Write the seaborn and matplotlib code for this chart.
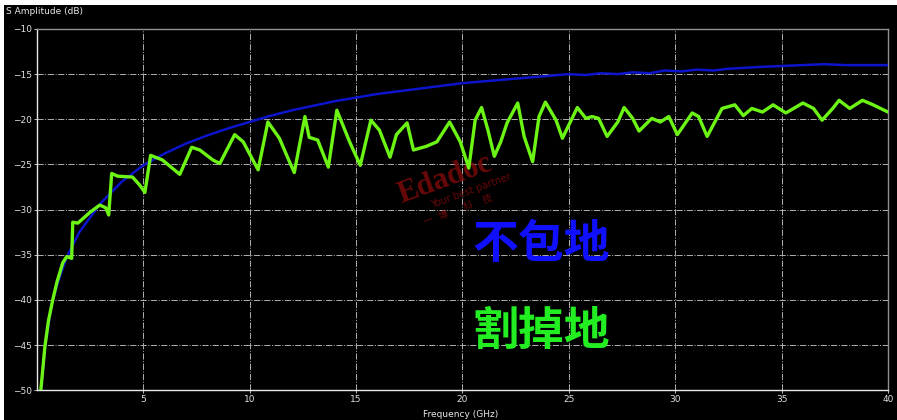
import matplotlib
matplotlib.use('Agg')
import matplotlib.pyplot as plt
from matplotlib.patches import Rectangle
import seaborn as sns

# 不包地 (blue) - S amplitude in dB vs frequency in GHz
blue_freq = [0.2, 0.4, 0.7, 1.0, 1.4, 2.0, 3.0, 4.0, 5.0, 6.0, 7.0, 8.0, 9.0, 10.0,
             11.0, 12.0, 13.0, 14.0, 15.0, 16.0, 17.0, 18.0, 19.0, 20.0, 21.0, 22.0,
             23.0, 24.0, 25.0, 25.8, 26.5, 27.3, 28.0, 28.8, 29.5, 30.3, 31.0, 31.8,
             32.5, 33.3, 34.0, 35.0, 36.0, 37.0, 38.0, 39.0, 40.0]
blue_db = [-50.0, -45.0, -40.5, -38.0, -35.3, -32.5, -29.3, -26.9, -25.1, -23.8, -22.7,
           -21.8, -21.0, -20.3, -19.6, -19.0, -18.5, -18.0, -17.6, -17.2, -16.9, -16.6,
           -16.3, -16.0, -15.8, -15.6, -15.4, -15.2, -15.0, -15.1, -14.9, -15.0, -14.8,
           -14.9, -14.6, -14.7, -14.5, -14.6, -14.4, -14.3, -14.2, -14.1, -14.0, -13.9,
           -14.0, -14.0, -14.0]

# 割掉地 (green)
green_freq = [0.19, 0.38, 0.55, 0.75, 0.94, 1.22, 1.41, 1.64, 1.69, 1.93, 2.5, 2.96,
              3.24, 3.38, 3.52, 3.8, 4.5, 4.84, 5.08, 5.35, 5.9, 6.72, 7.28, 7.66, 8.27,
              8.6, 9.3, 9.7, 10.4, 10.86, 11.4, 11.8, 12.1, 12.6, 12.8, 13.2, 13.7, 14.1,
              14.7, 15.2, 15.7, 16.1, 16.6, 16.9, 17.4, 17.7, 18.3, 18.8, 19.4, 19.9,
              20.3, 20.6, 20.9, 21.2, 21.5, 21.8, 22.1, 22.6, 22.9, 23.3, 23.6, 23.9,
              24.4, 24.7, 25.4, 25.8, 26.1, 26.4, 26.8, 27.3, 27.6, 28.0, 28.3, 28.9,
              29.3, 29.7, 30.1, 30.8, 31.1, 31.5, 32.2, 32.8, 33.2, 33.6, 34.1, 34.6,
              35.2, 36.0, 36.5, 36.9, 37.4, 37.7, 38.2, 38.8, 39.3, 40.0]
green_db = [-50.0, -45.2, -42.3, -40.0, -38.1, -35.9, -35.2, -35.4, -31.4, -31.5, -30.3,
            -29.5, -29.8, -30.6, -26.0, -26.3, -26.4, -27.3, -28.1, -24.0, -24.5, -26.1,
            -23.1, -23.4, -24.5, -24.9, -21.7, -22.5, -25.6, -20.3, -22.1, -24.3, -25.9,
            -19.7, -22.0, -22.3, -25.3, -19.0, -22.5, -25.1, -20.1, -21.2, -24.2, -21.7,
            -20.4, -23.4, -23.0, -22.5, -20.3, -22.5, -25.4, -20.1, -18.7, -21.2, -24.1,
            -22.5, -20.4, -18.2, -21.9, -24.7, -19.7, -18.1, -20.1, -22.1, -18.7, -19.9,
            -19.7, -19.9, -21.9, -20.3, -18.7, -19.9, -21.3, -19.9, -20.3, -19.7, -21.7,
            -19.3, -19.7, -21.9, -18.8, -18.4, -19.6, -18.8, -19.2, -18.4, -19.3, -18.2,
            -18.8, -20.1, -18.8, -17.9, -18.8, -17.9, -18.4, -19.2]

x_ticks = [5, 10, 15, 20, 25, 30, 35, 40]
y_ticks = [-50, -45, -40, -35, -30, -25, -20, -15, -10]

sns.set_style('ticks')
plt.rcParams['font.family'] = ['DejaVu Sans']

fig = plt.figure(figsize=(8.97, 4.2), dpi=100, facecolor='black')
ax = fig.add_axes([0.041, 0.071, 0.949, 0.86])
ax.set_facecolor('black')

# white strips at top and left of the screenshot
fig.patches.append(Rectangle((0, 0.988), 1, 0.012, transform=fig.transFigure,
                             facecolor='white', edgecolor='none', zorder=-1))
fig.patches.append(Rectangle((0, 0), 0.005, 1, transform=fig.transFigure,
                             facecolor='white', edgecolor='none', zorder=-1))

sns.lineplot(x=blue_freq, y=blue_db, ax=ax, color='#0c14cc', linewidth=1.8, zorder=3)
sns.lineplot(x=green_freq, y=green_db, ax=ax, color='#6cf514', linewidth=2.4, zorder=4)

ax.set_xlim(0, 40)
ax.set_ylim(-50, -10)
ax.set_xticks(x_ticks)
ax.set_yticks(y_ticks)
ax.tick_params(colors='#e0e0e0', labelsize=6.5, length=2, width=0.6, pad=1.5)
ax.grid(True, color='#b0b0b0', linestyle='-.', linewidth=0.7)
for side in ['left', 'bottom']:
    ax.spines[side].set_color('#e8e8e8')
    ax.spines[side].set_linewidth(1.0)
for side in ['top', 'right']:
    ax.spines[side].set_visible(True)
    ax.spines[side].set_color('#909090')
    ax.spines[side].set_linewidth(1.0)
ax.set_xlabel('')
ax.set_ylabel('')

fig.text(0.007, 0.972, 'S Amplitude (dB)', color='#e8e8e8', fontsize=6.5, va='center', ha='left')
fig.text(0.513, 0.012, 'Frequency (GHz)', color='#e8e8e8', fontsize=6.5, va='center', ha='center')

# watermark
ax.text(19.2, -26.6, 'Edadoc', color='#7a0a0a', fontsize=22, family='Liberation Serif',
        fontweight='bold', rotation=20, ha='center', va='center', alpha=0.85, zorder=2)
ax.text(20.4, -27.9, 'Your best partner', color='#7a0a0a', fontsize=7,
        rotation=20, ha='center', va='center', alpha=0.85, zorder=2)
ax.text(19.8, -30.0, '一   博        科     技', color='#7a0a0a', fontsize=7,
        family=['Noto Sans CJK SC', 'DejaVu Sans'], rotation=20, ha='center', va='center',
        alpha=0.85, zorder=2)

ax.text(23.7, -33.9, '不包地', color='#1010ff', fontsize=33, fontweight='bold',
        family=['Noto Sans CJK SC', 'DejaVu Sans'], ha='center', va='center', zorder=5)
ax.text(23.7, -43.6, '割掉地', color='#22ee22', fontsize=33, fontweight='bold',
        family=['Noto Sans CJK SC', 'DejaVu Sans'], ha='center', va='center', zorder=5)

fig.savefig('out.png', dpi=100, facecolor=fig.get_facecolor())
